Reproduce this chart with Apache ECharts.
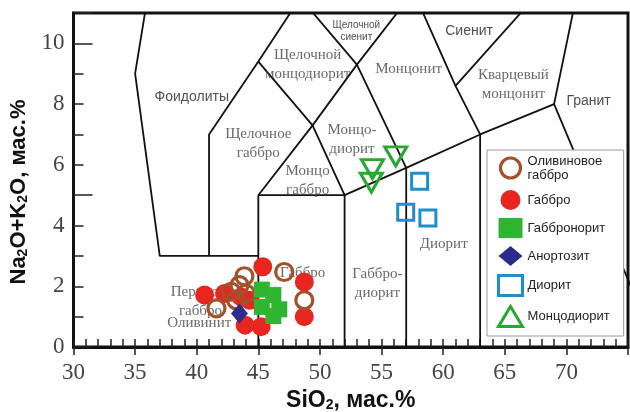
<!DOCTYPE html>
<html><head><meta charset="utf-8">
<script src="https://cdn.jsdelivr.net/npm/echarts@6/dist/echarts.min.js"></script>
<style>html,body{margin:0;padding:0;background:#fff}#c{width:630px;height:412px}</style>
</head><body><div id="c"></div>
<script>
// ---- data (SiO2, Na2O+K2O) ----
const olivineGabbro = [[43.87,2.33],[47.1,2.47],[48.73,1.54],[41.6,1.27],[42.8,1.82],[43.47,2.04],[44.0,1.76],[43.2,1.54]];
const gabbro = [[45.36,2.64],[48.73,2.14],[48.73,1.0],[40.64,1.71],[42.26,1.76],[45.23,0.67],[43.93,0.72],[44.3,1.54],[43.6,1.65]];
const gabbronorite = [[45.28,1.89],[45.28,1.32],[46.22,1.71],[46.7,1.24],[46.22,1.02]];
const anorthosite = [[43.47,1.1]];
const diorite = [[58.09,5.46],[56.96,4.44],[58.76,4.25]];
const monzodiorite = [[56.15,6.28],[54.26,5.86],[54.17,5.41]];

const seriesNames = ['Оливиновое\nгаббро','Габбро','Габбронорит','Анортозит','Диорит','Монцодиорит'];

// ---- TAS (Middlemost) field boundaries ----
const bnd1 = [[37,14],[35,9],[37,3],[45,3]];
const bnd2 = [[41,3],[41,7],[45,9.4],[48.4,11.5]];
const bnd3 = [[45,9.4],[49.4,7.3],[53,9.3],[57.6,11.7]];
const bnd4 = [[48.4,11.5],[53,9.3],[57,5.9]];
const bnd5 = [[49.4,7.3],[45,5],[45,0]];
const bnd6 = [[49.4,7.3],[52,5],[52,0]];
const bnd7 = [[45,5],[52,5],[57,5.9],[63,7],[69,8],[77.3,0]];
const bnd8 = [[57,5.9],[57,0]];
const bnd9 = [[63,7],[63,0]];
const bnd10 = [[63,7],[61,8.6],[57.6,11.7]];
const bnd11 = [[61,8.6],[71.8,13.5]];
const bnd12 = [[69,8],[71.8,13.5]];
const boundaries = [bnd1,bnd2,bnd3,bnd4,bnd5,bnd6,bnd7,bnd8,bnd9,bnd10,bnd11,bnd12];

// ---- field names ----
const serifNames = ['Щелочной\nмонцодиорит','Монцонит','Кварцевый\nмонцонит','Щелочное\nгаббро','Монцо-\nдиорит','Монцо\nгаббро','Диорит','Габбро-\nдиорит','Габбро','Перидот-\nгаббро','Оливинит'];
const serifX = [49.0,57.2,65.7,45.0,52.6,49.0,60.05,54.66,48.6,40.3,40.2];
const serifY = [9.29,9.15,8.65,6.69,6.82,5.48,3.4,2.09,2.43,1.5,0.78];
const sansNames = ['Фоидолиты','Щелочной\nсиенит','Сиенит','Гранит'];
const sansX = [39.6,52.95,62.1,71.8];
const sansY = [8.24,10.4,10.4,8.1];

const xTicks = [30,35,40,45,50,55,60,65,70];
const yTicks = [0,2,4,6,8,10];

const chart = echarts.init(document.getElementById('c'), null, {renderer:'canvas'});

const series = [];
boundaries.forEach(b => series.push({
  type:'line', data:b, symbol:'none', silent:true, z:1, clip:true,
  lineStyle:{color:'#111', width:1.8}, animation:false
}));
series.push({
  type:'scatter', symbolSize:0, silent:true, z:2,
  data: serifNames.map((n,i)=>({name:n, value:[serifX[i], serifY[i]]})),
  label:{show:true, position:'inside', formatter:'{b}', fontFamily:'Liberation Serif', fontSize:15, lineHeight:19, color:'#444'}
});
series.push({
  type:'scatter', symbolSize:0, silent:true, z:2,
  data: sansNames.map((n,i)=>({name:n, value:[sansX[i], sansY[i]]})),
  label:{show:true, position:'inside', formatter:'{b}', fontFamily:'Liberation Sans', fontSize:14, lineHeight:12, color:'#222'}
});
// smaller font for "Щелочной сиенит"
series[series.length-1].data[1].label = {fontSize:10, lineHeight:12};

series.push({name:seriesNames[1], type:'scatter', data:gabbro, symbol:'circle', symbolSize:19, z:3,
  itemStyle:{color:'#e8261f', opacity:1}});
series.push({name:seriesNames[0], type:'scatter', data:olivineGabbro, symbol:'circle', symbolSize:17, z:4,
  itemStyle:{color:'rgba(255,255,255,0)', borderColor:'#a2512a', borderWidth:3.2, opacity:1}});
series.push({name:seriesNames[2], type:'scatter', data:gabbronorite, symbol:'rect', symbolSize:16, z:5,
  itemStyle:{color:'#2fb52f', opacity:1}});
series.push({name:seriesNames[3], type:'scatter', data:anorthosite, symbol:'diamond', symbolSize:[17,20], z:6,
  itemStyle:{color:'#2e2a8e', opacity:1}});
series.push({name:seriesNames[4], type:'scatter', data:diorite, symbol:'rect', symbolSize:16, z:6,
  itemStyle:{color:'rgba(255,255,255,0)', borderColor:'#1d8fcf', borderWidth:3, opacity:1}});
series.push({name:seriesNames[5], type:'scatter', data:monzodiorite, symbol:'triangle', symbolRotate:180, symbolSize:[22,19], z:6,
  itemStyle:{color:'rgba(255,255,255,0)', borderColor:'#27a82f', borderWidth:3, opacity:1}});

const option = {
  animation:false,
  backgroundColor:'#fff',
  grid:{left:73.5, right:2, top:13, bottom:65, show:true, borderColor:'#111', borderWidth:3, containLabel:false, outerBoundsMode:'none'},
  xAxis:[{
    type:'value', min:30, max:75, interval:1,
    axisLine:{show:true, lineStyle:{color:'#111', width:3}},
    axisTick:{show:true, inside:true, length:8, lineStyle:{color:'#222', width:1.5}},
    axisLabel:{formatter:v=> xTicks.indexOf(v)>=0 ? String(v) : '', fontFamily:'Liberation Serif', fontSize:23, color:'#444', margin:14},
    splitLine:{show:false},
    name:'SiO{s|2}, мас.%', nameLocation:'middle', nameGap:40,
    nameTextStyle:{fontFamily:'Liberation Sans', fontWeight:'bold', fontSize:23, color:'#111',
      rich:{s:{fontFamily:'Liberation Sans', fontWeight:'bold', fontSize:14, verticalAlign:'bottom', padding:[9,0,0,0]}}}
  },{
    type:'value', min:30, max:75, interval:5, position:'bottom',
    axisLine:{show:false}, axisLabel:{show:false}, splitLine:{show:false},
    axisTick:{show:true, inside:false, length:8, lineStyle:{color:'#222', width:1.5}}
  }],
  yAxis:[{
    type:'value', min:0, max:11, interval:1,
    axisLine:{show:true, lineStyle:{color:'#111', width:3}},
    axisTick:{show:true, inside:true, length:10, lineStyle:{color:'#222', width:1.5}},
    axisLabel:{formatter:v=> yTicks.indexOf(v)>=0 ? String(v) : '', fontFamily:'Liberation Serif', fontSize:23, color:'#444', margin:9},
    splitLine:{show:false},
    name:'Na{s|2}O+K{s|2}O, мас.%', nameLocation:'middle', nameGap:37,
    nameTextStyle:{fontFamily:'Liberation Sans', fontWeight:'bold', fontSize:22, color:'#111', padding:[0,24,0,0],
      rich:{s:{fontFamily:'Liberation Sans', fontWeight:'bold', fontSize:14, verticalAlign:'bottom', padding:[9,0,0,0]}}}
  },{
    type:'value', min:0, max:11, interval:5, position:'left',
    axisLine:{show:false}, axisLabel:{show:false}, splitLine:{show:false},
    axisTick:{show:true, inside:true, length:19, lineStyle:{color:'#222', width:1.5}}
  }],
  legend:{
    data:seriesNames, orient:'vertical', left:487, top:150,
    backgroundColor:'#fff', borderColor:'#999', borderWidth:1, borderRadius:0,
    padding:[4,14,8,10], itemGap:8, itemWidth:24, itemHeight:20,
    itemStyle:{borderWidth:'inherit'},
    textStyle:{fontFamily:'Liberation Sans', fontSize:13, color:'#222', lineHeight:14}
  },
  series: series
};
chart.setOption(option);
</script></body></html>
